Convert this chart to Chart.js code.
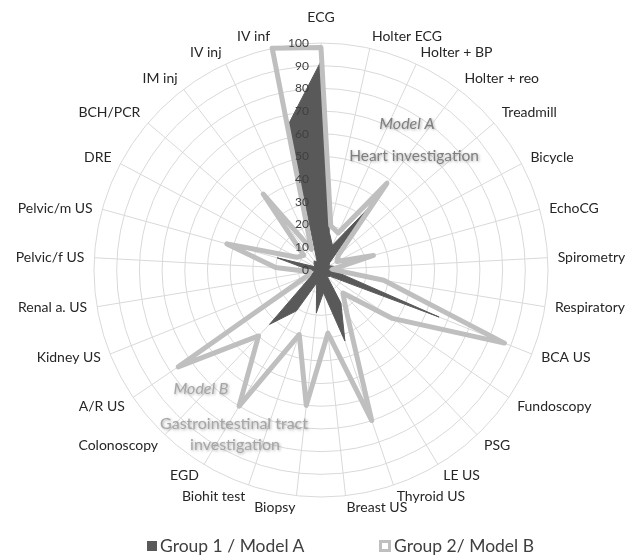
<!DOCTYPE html>
<html><head><meta charset="utf-8">
<script src="https://cdn.jsdelivr.net/npm/chart.js@4/dist/chart.umd.min.js"></script>
<style>
html,body{margin:0;padding:0;background:#fff;}
#wrap{position:relative;width:630px;height:555px;}
.item{position:absolute;top:535px;display:flex;align-items:center;font-family:Lato,sans-serif;font-size:17.5px;color:#404040;line-height:22px;white-space:nowrap;}
.b1{display:inline-block;width:10px;height:10px;background:#595959;margin-right:3px;}
.b2{display:inline-block;width:6px;height:6px;border:3px solid #bfbfbf;background:#fff;margin-right:3px;}
</style>
</head><body>
<div id="wrap"><canvas id="c" width="630" height="555"></canvas>
<span class="item" style="left:147px"><span class="b1"></span>Group 1 / Model A</span>
<span class="item" style="left:379px"><span class="b2"></span>Group 2/ Model B</span>
</div>
<script>
const categories = ["ECG","Holter ECG","Holter + BP","Holter + reo","Treadmill","Bicycle","EchoCG","Spirometry","Respiratory","BCA US","Fundoscopy","PSG","LE US","Thyroid US","Breast US","Biopsy","Biohit test","EGD","Colonoscopy","A/R US","Kidney US","Renal a. US","Pelvic/f US","Pelvic/m US","DRE","BCH/PCR","IM inj","IV inj","IV inf"];
const group1 = [92,17,12,33,5,4,6,3,8,56,5,4,17,33,10,19,6,21,33,6,4,3,6,20,3,4,5,4,66];
const group2 = [98,20,18,48,10,8,24,5,28,87,38,14,22,70,28,60,30,70,40,76,6,5,20,43,12,10,42,10,100];
const tickValues = [0,10,20,30,40,50,60,70,80,90,100];
const seriesNames = ["Group 1 / Model A","Group 2/ Model B"];

const tickLabelPlugin = {
  id:'tickLabels',
  afterDatasetsDraw(chart){
    const s = chart.scales.r, ctx = chart.ctx;
    ctx.save();
    ctx.font = '12px Lato'; ctx.fillStyle = '#404040';
    ctx.textAlign = 'right'; ctx.textBaseline = 'middle';
    tickValues.forEach(v => {
      const d = s.getDistanceFromCenterForValue(v);
      ctx.fillText(String(v), s.xCenter - 12, s.yCenter - d);
    });
    ctx.restore();
  }
};
const pointLabelPlugin = {
  id:'pointLabelsExcel',
  afterDraw(chart){
    const s = chart.scales.r, ctx = chart.ctx;
    ctx.save();
    ctx.font = '14px Lato'; ctx.fillStyle = '#262626'; ctx.textBaseline = 'middle';
    const h = 16;
    categories.forEach((lab, i) => {
      const th = s.getIndexAngle(i);
      const sn = Math.sin(th), cs = Math.cos(th);
      const end = s.getPointPosition(i, s.drawingArea);
      let x = end.x + 10 * sn, y = end.y - 4 * cs;
      const align = Math.abs(sn) < 0.05 ? 'center' : (sn > 0 ? 'left' : 'right');
      const ratio = Math.max(0, Math.min(1, (Math.abs(cs) - 0.3) / 0.3));
      y -= Math.sign(cs) * ratio * h / 2;
      if (Math.abs(sn) < 0.05 && cs > 0) y -= 14;
      ctx.textAlign = align;
      ctx.fillText(lab, x, y);
    });
    ctx.restore();
  }
};
const notePlugin = {
  id:'notes',
  afterDatasetsDraw(chart){
    const ctx = chart.ctx;
    ctx.save();
    ctx.textAlign = 'center'; ctx.textBaseline = 'middle';
    ctx.shadowColor = 'rgba(0,0,0,0.35)'; ctx.shadowBlur = 3; ctx.shadowOffsetX = 1; ctx.shadowOffsetY = 1;
    ctx.fillStyle = '#7f7f7f';
    ctx.font = 'italic 16px Lato'; ctx.fillText('Model A', 407, 124);
    ctx.font = '15.5px Lato'; ctx.fillText('Heart investigation', 414, 156);
    ctx.fillStyle = '#a6a6a6';
    ctx.font = 'italic 16px Lato'; ctx.fillText('Model B', 201, 389);
    ctx.font = '16px Lato'; ctx.fillText('Gastrointestinal tract', 234, 424);
    ctx.fillText('investigation', 235, 445);
    ctx.restore();
  }
};

new Chart(document.getElementById('c'), {
  type:'radar',
  data:{
    labels: categories,
    datasets:[
      {label: seriesNames[0], data: group1, backgroundColor:'#595959', borderColor:'#595959', borderWidth:1, fill:true, pointRadius:0, order:2},
      {label: seriesNames[1], data: group2, backgroundColor:'rgba(0,0,0,0)', borderColor:'#bfbfbf', borderWidth:5, fill:false, pointRadius:0, borderJoinStyle:'round', order:1}
    ]
  },
  options:{
    responsive:false, animation:false,
    layout:{padding:{top:43,bottom:58,left:12,right:0}},
    plugins:{legend:{display:false}, tooltip:{enabled:false}},
    scales:{r:{
      min:0, max:100,
      ticks:{stepSize:10, display:false},
      grid:{circular:true, color:'#d9d9d9', lineWidth:1},
      angleLines:{color:'#d9d9d9', lineWidth:1},
      pointLabels:{display:false}
    }}
  },
  plugins:[tickLabelPlugin, pointLabelPlugin, notePlugin]
});
</script>
</body></html>
